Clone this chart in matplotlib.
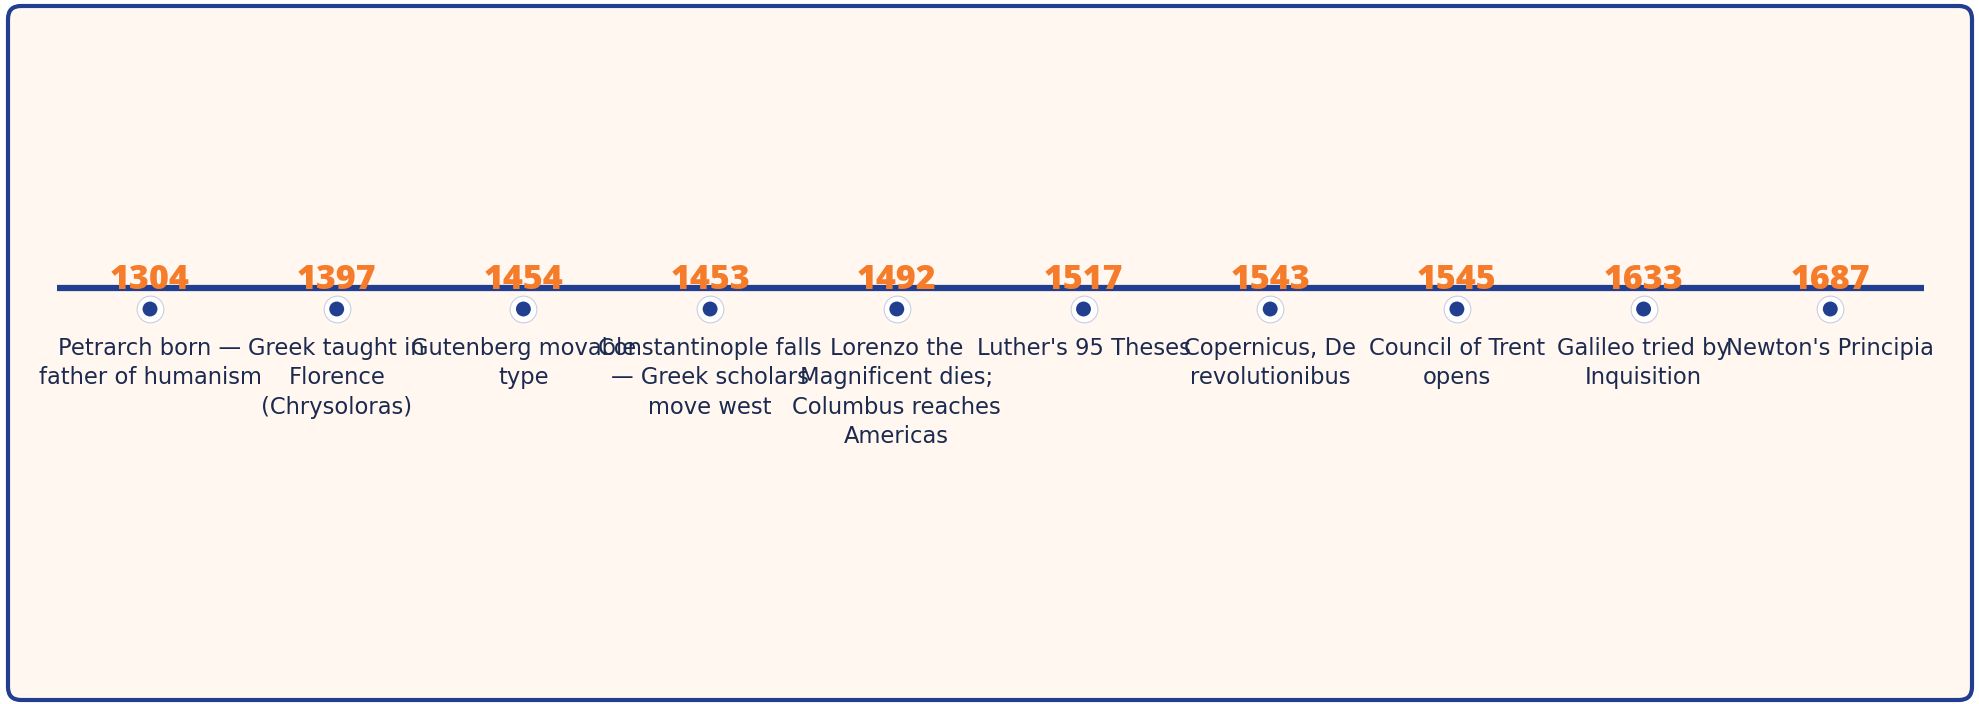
import matplotlib
matplotlib.use("Agg")
import matplotlib.pyplot as plt
from matplotlib.patches import FancyBboxPatch

years = ["1304", "1397", "1454", "1453", "1492", "1517", "1543", "1545", "1633", "1687"]
events = [
    "Petrarch born —\nfather of humanism",
    "Greek taught in\nFlorence\n(Chrysoloras)",
    "Gutenberg movable\ntype",
    "Constantinople falls\n— Greek scholars\nmove west",
    "Lorenzo the\nMagnificent dies;\nColumbus reaches\nAmericas",
    "Luther's 95 Theses",
    "Copernicus, De\nrevolutionibus",
    "Council of Trent\nopens",
    "Galileo tried by\nInquisition",
    "Newton's Principia",
]

W, H = 1979, 704
fig = plt.figure(figsize=(W / 100, H / 100), dpi=100, facecolor="white")

# background panel axes (pixel coordinates)
bg = fig.add_axes([0, 0, 1, 1], zorder=0)
bg.set_axis_off()
bg.set_xlim(0, W)
bg.set_ylim(H, 0)
panel = FancyBboxPatch((8, 6), 1964, 694,
                       boxstyle="round,pad=0,rounding_size=13",
                       facecolor="#fff7f0", edgecolor="#213e8f", linewidth=3.0)
bg.add_patch(panel)

ax = fig.add_axes([0, 0, 1, 1], zorder=1)
ax.set_axis_off()
ax.patch.set_alpha(0)

step = 186.7
x0 = 150
xl = (0 - x0) / step
xr = (W - x0) / step
ax.set_xlim(xl, xr)
ax.set_ylim(H, 0)

n = len(years)
xs = list(range(n))
line_y = 288
ax.plot([-0.5, n - 0.5], [line_y, line_y], color="#213e8f", linewidth=4.5,
        solid_capstyle="butt", zorder=2)

ax.scatter(xs, [309] * n, s=370, facecolor="white", edgecolor="#c9cfe2",
           linewidth=0.8, zorder=3)
ax.scatter(xs, [309] * n, s=115, facecolor="#213e8f", edgecolor="none", zorder=4)

for i, (yr, ev) in enumerate(zip(years, events)):
    ax.text(i, 289, yr, ha="center", va="baseline", fontsize=24.5,
            fontfamily="Open Sans", fontweight=800, color="#f47c2a", zorder=5)
    ax.text(i, 337, ev, ha="center", va="top", fontsize=16.3,
            fontfamily="DejaVu Sans", color="#1b2a4e",
            linespacing=1.35, multialignment="center", zorder=5)

fig.savefig("out.png", dpi=100, facecolor="white")
